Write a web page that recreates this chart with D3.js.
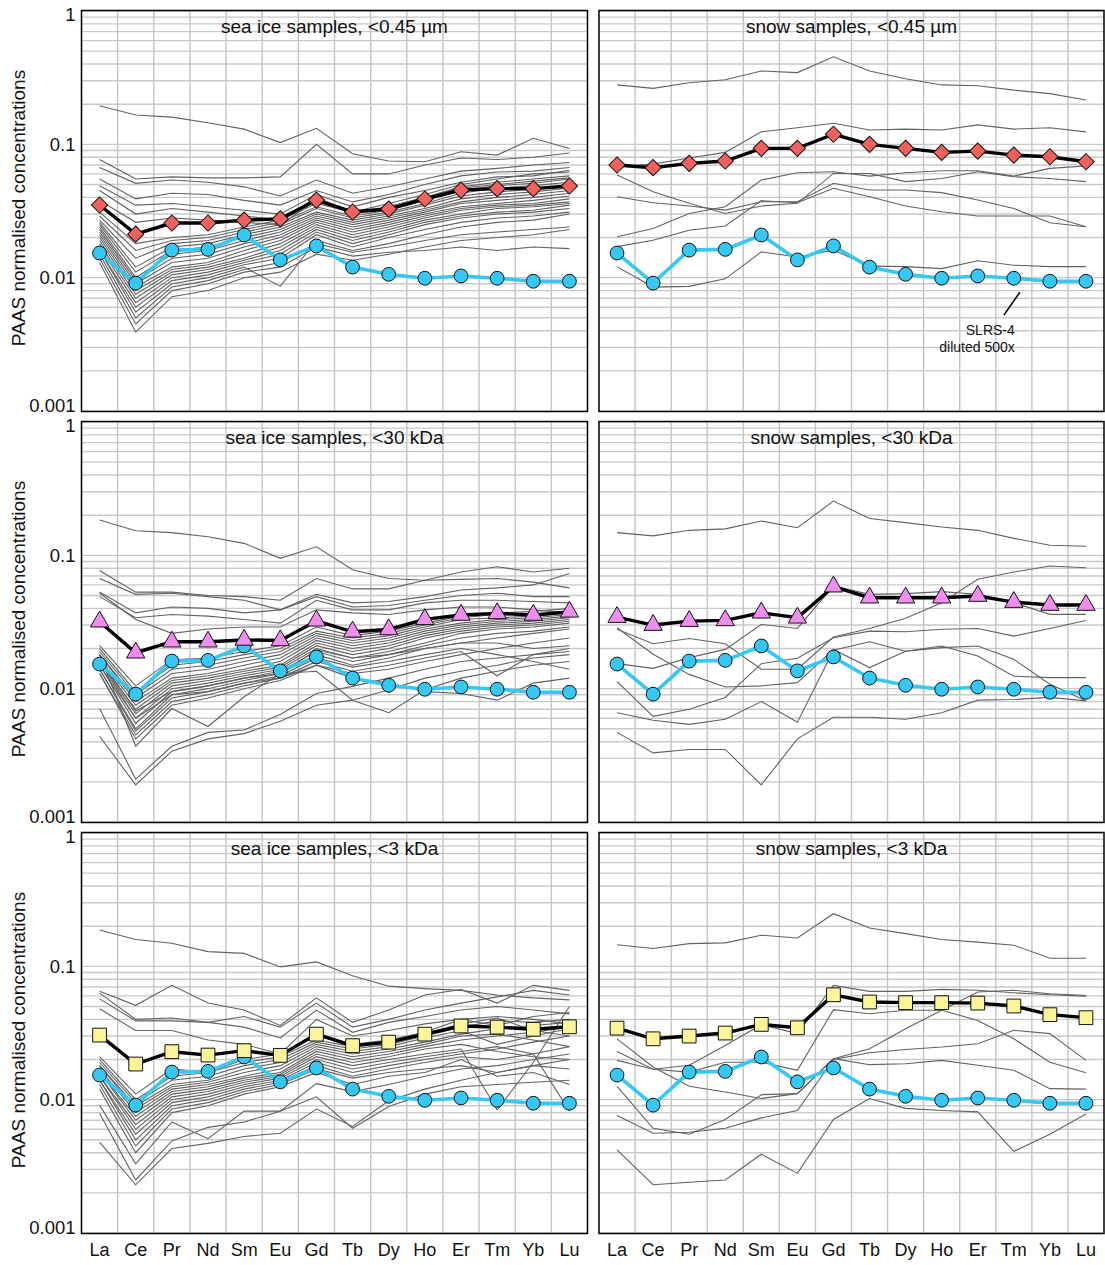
<!DOCTYPE html>
<html>
<head>
<meta charset="utf-8">
<script src="https://cdn.jsdelivr.net/npm/d3@7"></script>
<style>
body { margin: 0; background: #fff; }
text { font-family: "Liberation Sans", Arial, sans-serif; fill: #111; }
</style>
</head>
<body>
<div id="chart"></div>
<script>
var width = 1105;
var height = 1265;

var elements = ["La", "Ce", "Pr", "Nd", "Sm", "Eu", "Gd", "Tb", "Dy", "Ho", "Er", "Tm", "Yb", "Lu"];
var yTicks = [1, 0.1, 0.01, 0.001];

// SLRS-4 diluted 500x (same in every panel)
var slrs4 = [0.0153, 0.0091, 0.0161, 0.0163, 0.0209, 0.0136, 0.0173, 0.0120, 0.0106, 0.0099, 0.0103, 0.0099, 0.0094, 0.0094];

// mean profiles
var seaIce045Mean = [0.0351, 0.0212, 0.0257, 0.0257, 0.0270, 0.0276, 0.0382, 0.0311, 0.0327, 0.0389, 0.0454, 0.0465, 0.0465, 0.0487];
var snow045Mean = [0.070, 0.0668, 0.072, 0.075, 0.0933, 0.0933, 0.119, 0.100, 0.0933, 0.087, 0.089, 0.083, 0.0807, 0.074];
var seaIce30Mean = [0.0318, 0.0186, 0.0225, 0.0225, 0.0232, 0.0230, 0.0323, 0.0267, 0.0278, 0.0331, 0.0357, 0.0367, 0.0357, 0.0377];
var snow30Mean = [0.0344, 0.0300, 0.0321, 0.0325, 0.0371, 0.0340, 0.0582, 0.0481, 0.0481, 0.0481, 0.0495, 0.0446, 0.0424, 0.0424];
var seaIce3Mean = [0.0305, 0.0185, 0.0229, 0.0216, 0.0233, 0.0215, 0.0310, 0.0254, 0.0270, 0.0310, 0.0357, 0.0350, 0.0337, 0.0352];
var snow3Mean = [0.0344, 0.0286, 0.0300, 0.0316, 0.0367, 0.0346, 0.0612, 0.0540, 0.0534, 0.0534, 0.0530, 0.0504, 0.0434, 0.0412];

// individual samples
var seaIce045 = [
  [0.195, 0.166, 0.16, 0.145, 0.13, 0.103, 0.132, 0.085, 0.075, 0.074, 0.088, 0.083, 0.111, 0.093],
  [0.077, 0.055, 0.057, 0.056, 0.056, 0.057, 0.10, 0.06, 0.06, 0.07, 0.079, 0.077, 0.08, 0.086],
  [0.067, 0.051, 0.054, 0.052, 0.048, 0.041, 0.054, 0.043, 0.048, 0.055, 0.063, 0.066, 0.07, 0.073],
  [0.055, 0.039, 0.043, 0.042, 0.038, 0.035, 0.045, 0.037, 0.042, 0.05, 0.058, 0.062, 0.063, 0.067],
  [0.049, 0.035, 0.036, 0.034, 0.032, 0.03, 0.042, 0.034, 0.04, 0.045, 0.052, 0.057, 0.058, 0.064],
  [0.045, 0.03, 0.033, 0.031, 0.029, 0.027, 0.04, 0.031, 0.036, 0.042, 0.05, 0.055, 0.06, 0.062],
  [0.038, 0.026, 0.028, 0.027, 0.026, 0.025, 0.038, 0.03, 0.034, 0.04, 0.047, 0.05, 0.053, 0.056],
  [0.031, 0.018, 0.02, 0.021, 0.024, 0.027, 0.036, 0.031, 0.034, 0.040, 0.048, 0.052, 0.055, 0.058],
  [0.029, 0.016, 0.019, 0.02, 0.023, 0.026, 0.034, 0.029, 0.032, 0.038, 0.045, 0.049, 0.051, 0.055],
  [0.027, 0.014, 0.018, 0.019, 0.022, 0.025, 0.033, 0.028, 0.031, 0.036, 0.043, 0.047, 0.049, 0.052],
  [0.026, 0.012, 0.017, 0.018, 0.021, 0.024, 0.031, 0.027, 0.03, 0.035, 0.041, 0.044, 0.046, 0.05],
  [0.025, 0.011, 0.016, 0.017, 0.02, 0.023, 0.03, 0.026, 0.029, 0.033, 0.039, 0.042, 0.044, 0.047],
  [0.024, 0.01, 0.015, 0.016, 0.019, 0.022, 0.029, 0.025, 0.028, 0.032, 0.037, 0.04, 0.042, 0.045],
  [0.023, 0.0095, 0.014, 0.015, 0.018, 0.021, 0.028, 0.024, 0.027, 0.031, 0.036, 0.038, 0.04, 0.043],
  [0.022, 0.009, 0.013, 0.014, 0.017, 0.02, 0.027, 0.023, 0.026, 0.03, 0.034, 0.036, 0.038, 0.041],
  [0.021, 0.0085, 0.012, 0.013, 0.016, 0.019, 0.026, 0.022, 0.025, 0.029, 0.033, 0.035, 0.036, 0.039],
  [0.02, 0.008, 0.0115, 0.0125, 0.015, 0.018, 0.025, 0.021, 0.024, 0.028, 0.032, 0.034, 0.035, 0.037],
  [0.019, 0.0075, 0.011, 0.012, 0.014, 0.017, 0.024, 0.02, 0.023, 0.027, 0.03, 0.033, 0.034, 0.036],
  [0.018, 0.007, 0.0105, 0.0115, 0.0135, 0.016, 0.023, 0.019, 0.022, 0.026, 0.029, 0.031, 0.032, 0.035],
  [0.017, 0.0065, 0.01, 0.011, 0.013, 0.015, 0.022, 0.018, 0.021, 0.025, 0.028, 0.03, 0.031, 0.033],
  [0.016, 0.006, 0.0095, 0.0105, 0.0125, 0.014, 0.021, 0.017, 0.02, 0.023, 0.026, 0.028, 0.029, 0.031],
  [0.016, 0.0055, 0.009, 0.01, 0.012, 0.0086, 0.019, 0.016, 0.018, 0.021, 0.024, 0.026, 0.027, 0.03],
  [0.015, 0.005, 0.0085, 0.0095, 0.0115, 0.013, 0.018, 0.0155, 0.017, 0.019, 0.021, 0.022, 0.023, 0.024],
  [0.014, 0.0045, 0.008, 0.009, 0.011, 0.012, 0.017, 0.0145, 0.0155, 0.016, 0.017, 0.016, 0.017, 0.0165],
  [0.013, 0.0039, 0.0072, 0.008, 0.01, 0.011, 0.015, 0.0135, 0.015, 0.017, 0.019, 0.02, 0.021, 0.023]
];

var snow045 = [
  [0.279, 0.263, 0.29, 0.305, 0.355, 0.345, 0.454, 0.355, 0.31, 0.279, 0.275, 0.255, 0.24, 0.215],
  [0.068, 0.071, 0.079, 0.087, 0.124, 0.133, 0.144, 0.128, 0.13, 0.128, 0.14, 0.13, 0.133, 0.124],
  [0.0589, 0.0441, 0.0361, 0.0303, 0.0345, 0.0361, 0.0605, 0.0605, 0.0525, 0.0555, 0.0623, 0.0571, 0.0555, 0.0525],
  [0.0405, 0.0365, 0.0345, 0.0321, 0.0371, 0.0371, 0.051, 0.0454, 0.0454, 0.0434, 0.0382, 0.033, 0.0258, 0.0241],
  [0.0203, 0.0234, 0.0303, 0.034, 0.054, 0.0612, 0.0623, 0.0578, 0.0612, 0.0634, 0.0634, 0.0578, 0.066, 0.0687],
  [0.0171, 0.0191, 0.0227, 0.0244, 0.0378, 0.0365, 0.0468, 0.0405, 0.0345, 0.0312, 0.029, 0.029, 0.029, 0.0241],
  [0.0121, 0.0085, 0.0086, 0.0098, 0.0156, 0.0143, 0.0161, 0.0122, 0.0121, 0.0117, 0.0134, 0.0124, 0.0121, 0.0121]
];

var seaIce30 = [
  [0.184, 0.153, 0.148, 0.138, 0.123, 0.095, 0.116, 0.078, 0.067, 0.065, 0.075, 0.082, 0.075, 0.08],
  [0.077, 0.053, 0.053, 0.05, 0.049, 0.046, 0.067, 0.056, 0.056, 0.065, 0.066, 0.067, 0.063, 0.057],
  [0.067, 0.051, 0.052, 0.049, 0.046, 0.039, 0.051, 0.044, 0.045, 0.049, 0.055, 0.057, 0.06, 0.073],
  [0.053, 0.037, 0.041, 0.04, 0.037, 0.039, 0.049, 0.041, 0.042, 0.046, 0.05, 0.052, 0.049, 0.049],
  [0.049, 0.034, 0.036, 0.035, 0.033, 0.031, 0.046, 0.039, 0.039, 0.044, 0.046, 0.046, 0.045, 0.044],
  [0.052, 0.033, 0.026, 0.028, 0.029, 0.029, 0.039, 0.037, 0.036, 0.039, 0.041, 0.041, 0.039, 0.037],
  [0.021, 0.0105, 0.0165, 0.017, 0.019, 0.021, 0.029, 0.025, 0.027, 0.031, 0.035, 0.037, 0.038, 0.04],
  [0.02, 0.0095, 0.015, 0.016, 0.018, 0.02, 0.027, 0.024, 0.026, 0.03, 0.034, 0.036, 0.036, 0.038],
  [0.019, 0.009, 0.014, 0.015, 0.017, 0.019, 0.026, 0.023, 0.025, 0.029, 0.033, 0.034, 0.035, 0.037],
  [0.018, 0.0085, 0.013, 0.014, 0.016, 0.018, 0.025, 0.022, 0.024, 0.028, 0.031, 0.033, 0.034, 0.036],
  [0.018, 0.008, 0.012, 0.013, 0.015, 0.017, 0.024, 0.021, 0.023, 0.027, 0.03, 0.032, 0.033, 0.035],
  [0.017, 0.0075, 0.0115, 0.0125, 0.014, 0.016, 0.023, 0.02, 0.022, 0.026, 0.029, 0.031, 0.032, 0.034],
  [0.016, 0.007, 0.011, 0.012, 0.0135, 0.015, 0.022, 0.019, 0.021, 0.025, 0.028, 0.03, 0.031, 0.033],
  [0.016, 0.0065, 0.0105, 0.0115, 0.013, 0.0145, 0.021, 0.018, 0.02, 0.024, 0.027, 0.029, 0.03, 0.032],
  [0.015, 0.006, 0.01, 0.011, 0.0125, 0.014, 0.02, 0.017, 0.019, 0.022, 0.026, 0.028, 0.029, 0.031],
  [0.015, 0.0055, 0.0095, 0.0105, 0.012, 0.0135, 0.019, 0.016, 0.018, 0.021, 0.024, 0.026, 0.027, 0.029],
  [0.014, 0.005, 0.009, 0.01, 0.0115, 0.013, 0.018, 0.015, 0.017, 0.02, 0.022, 0.022, 0.02, 0.021],
  [0.014, 0.0048, 0.0085, 0.0095, 0.011, 0.0125, 0.017, 0.0145, 0.016, 0.018, 0.02, 0.018, 0.016, 0.014],
  [0.013, 0.0045, 0.008, 0.009, 0.0105, 0.012, 0.016, 0.0135, 0.015, 0.017, 0.019, 0.0125, 0.018, 0.02],
  [0.013, 0.0042, 0.0075, 0.0085, 0.01, 0.0115, 0.015, 0.013, 0.014, 0.016, 0.018, 0.02, 0.022, 0.024],
  [0.017, 0.0068, 0.0095, 0.0105, 0.012, 0.013, 0.0135, 0.0082, 0.0066, 0.0098, 0.012, 0.0135, 0.015, 0.016],
  [0.016, 0.006, 0.009, 0.0095, 0.011, 0.012, 0.015, 0.012, 0.011, 0.0095, 0.0092, 0.0082, 0.011, 0.012],
  [0.018, 0.0037, 0.0071, 0.0052, 0.0087, 0.013, 0.0195, 0.017, 0.018, 0.02, 0.022, 0.024, 0.026, 0.028],
  [0.0044, 0.0019, 0.0034, 0.0042, 0.0046, 0.0057, 0.0075, 0.0082, 0.0098, 0.012, 0.0135, 0.015, 0.017, 0.018],
  [0.0071, 0.0021, 0.0037, 0.0047, 0.0049, 0.0064, 0.0092, 0.0104, 0.012, 0.014, 0.016, 0.017, 0.018, 0.019]
];

var snow30 = [
  [0.148, 0.14, 0.154, 0.158, 0.181, 0.161, 0.255, 0.189, 0.176, 0.163, 0.154, 0.134, 0.119, 0.117],
  [0.0279, 0.0217, 0.0238, 0.0217, 0.014, 0.014, 0.0244, 0.0283, 0.0337, 0.0441, 0.0661, 0.0749, 0.0832, 0.0807],
  [0.0154, 0.0142, 0.0171, 0.0197, 0.0303, 0.0283, 0.0589, 0.051, 0.0516, 0.0534, 0.051, 0.0441, 0.0361, 0.0361],
  [0.0286, 0.0181, 0.0128, 0.0103, 0.0105, 0.0111, 0.0197, 0.0144, 0.0191, 0.0203, 0.0209, 0.0166, 0.0108, 0.0081],
  [0.0113, 0.0062, 0.007, 0.0086, 0.0154, 0.0169, 0.0241, 0.027, 0.0267, 0.0279, 0.0283, 0.0248, 0.0283, 0.0325],
  [0.0066, 0.0058, 0.0054, 0.0059, 0.008, 0.0056, 0.0194, 0.0225, 0.0191, 0.0209, 0.0176, 0.0124, 0.0121, 0.0121],
  [0.0047, 0.0033, 0.0035, 0.0035, 0.0019, 0.0042, 0.0061, 0.0061, 0.0059, 0.0066, 0.0082, 0.0083, 0.0086, 0.0081]
];

var seaIce3 = [
  [0.187, 0.159, 0.149, 0.129, 0.125, 0.099, 0.108, 0.085, 0.071, 0.068, 0.066, 0.061, 0.058, 0.056],
  [0.065, 0.051, 0.072, 0.053, 0.047, 0.036, 0.058, 0.038, 0.047, 0.061, 0.067, 0.053, 0.072, 0.066],
  [0.063, 0.04, 0.041, 0.038, 0.042, 0.035, 0.053, 0.035, 0.04, 0.047, 0.053, 0.059, 0.066, 0.061],
  [0.057, 0.039, 0.039, 0.038, 0.035, 0.029, 0.047, 0.032, 0.038, 0.042, 0.047, 0.05, 0.047, 0.044],
  [0.048, 0.033, 0.033, 0.028, 0.026, 0.022, 0.04, 0.03, 0.033, 0.037, 0.04, 0.042, 0.04, 0.037],
  [0.021, 0.011, 0.017, 0.016, 0.02, 0.022, 0.03, 0.026, 0.028, 0.032, 0.04, 0.036, 0.042, 0.045],
  [0.02, 0.01, 0.015, 0.016, 0.019, 0.021, 0.028, 0.025, 0.027, 0.031, 0.037, 0.041, 0.033, 0.03],
  [0.019, 0.0095, 0.014, 0.015, 0.018, 0.02, 0.027, 0.024, 0.026, 0.03, 0.035, 0.039, 0.038, 0.04],
  [0.018, 0.009, 0.013, 0.014, 0.017, 0.019, 0.026, 0.023, 0.025, 0.029, 0.033, 0.026, 0.03, 0.034],
  [0.018, 0.0085, 0.0125, 0.0135, 0.016, 0.018, 0.025, 0.022, 0.024, 0.027, 0.031, 0.034, 0.036, 0.038],
  [0.017, 0.008, 0.012, 0.013, 0.015, 0.017, 0.024, 0.021, 0.023, 0.026, 0.03, 0.031, 0.028, 0.025],
  [0.016, 0.0075, 0.0115, 0.0125, 0.0145, 0.016, 0.023, 0.02, 0.022, 0.025, 0.028, 0.03, 0.032, 0.035],
  [0.016, 0.007, 0.011, 0.012, 0.014, 0.0155, 0.022, 0.019, 0.021, 0.024, 0.026, 0.023, 0.021, 0.02],
  [0.015, 0.0065, 0.0105, 0.0115, 0.0135, 0.015, 0.021, 0.018, 0.02, 0.022, 0.024, 0.0084, 0.019, 0.05],
  [0.015, 0.006, 0.01, 0.011, 0.013, 0.0145, 0.02, 0.017, 0.019, 0.021, 0.023, 0.025, 0.022, 0.0082],
  [0.014, 0.0055, 0.0095, 0.0105, 0.0125, 0.014, 0.019, 0.016, 0.018, 0.02, 0.022, 0.024, 0.027, 0.03],
  [0.014, 0.005, 0.009, 0.01, 0.012, 0.0135, 0.018, 0.015, 0.017, 0.019, 0.021, 0.02, 0.022, 0.025],
  [0.013, 0.0045, 0.0085, 0.0095, 0.0115, 0.013, 0.017, 0.0145, 0.016, 0.017, 0.018, 0.016, 0.018, 0.017],
  [0.012, 0.004, 0.008, 0.009, 0.011, 0.0125, 0.016, 0.013, 0.015, 0.016, 0.02, 0.015, 0.016, 0.013],
  [0.0048, 0.0023, 0.0043, 0.0047, 0.0053, 0.0056, 0.0085, 0.0063, 0.0098, 0.012, 0.014, 0.016, 0.018, 0.02],
  [0.0079, 0.0025, 0.0049, 0.0062, 0.0068, 0.0082, 0.0132, 0.0115, 0.013, 0.015, 0.017, 0.018, 0.02, 0.022],
  [0.0091, 0.0033, 0.0068, 0.0051, 0.0082, 0.0082, 0.0105, 0.0061, 0.0089, 0.011, 0.0125, 0.013, 0.0135, 0.014]
];

var snow3 = [
  [0.145, 0.136, 0.148, 0.150, 0.171, 0.163, 0.248, 0.194, 0.176, 0.159, 0.152, 0.144, 0.115, 0.115],
  [0.0197, 0.0169, 0.0181, 0.0255, 0.0365, 0.0313, 0.072, 0.0649, 0.0649, 0.0672, 0.0661, 0.0634, 0.0612, 0.0598],
  [0.023, 0.0169, 0.0161, 0.0191, 0.0191, 0.0166, 0.0473, 0.0441, 0.0468, 0.0468, 0.0393, 0.0286, 0.0191, 0.0159],
  [0.0286, 0.0176, 0.0126, 0.0114, 0.0102, 0.0111, 0.0203, 0.0183, 0.0186, 0.0197, 0.0181, 0.0166, 0.0121, 0.012],
  [0.0126, 0.0061, 0.0055, 0.0071, 0.0109, 0.0111, 0.0203, 0.0241, 0.034, 0.0468, 0.0642, 0.0661, 0.0623, 0.0605],
  [0.0076, 0.0056, 0.0057, 0.0061, 0.0073, 0.0083, 0.02, 0.0225, 0.0238, 0.0248, 0.0263, 0.0331, 0.0313, 0.0197],
  [0.0042, 0.0023, 0.0024, 0.0025, 0.0039, 0.0028, 0.0071, 0.0102, 0.0086, 0.0083, 0.0081, 0.0041, 0.0055, 0.0078]
];

var panels = [
  {title: "sea ice samples, <0.45 µm", col: 0, row: 0, samples: seaIce045, mean: seaIce045Mean, marker: "diamond", fill: "#f2615c"},
  {title: "snow samples, <0.45 µm", col: 1, row: 0, samples: snow045, mean: snow045Mean, marker: "diamond", fill: "#f2615c", note: true},
  {title: "sea ice samples, <30 kDa", col: 0, row: 1, samples: seaIce30, mean: seaIce30Mean, marker: "triangle", fill: "#f08ef0"},
  {title: "snow samples, <30 kDa", col: 1, row: 1, samples: snow30, mean: snow30Mean, marker: "triangle", fill: "#f08ef0"},
  {title: "sea ice samples, <3 kDa", col: 0, row: 2, samples: seaIce3, mean: seaIce3Mean, marker: "square", fill: "#fbf59a"},
  {title: "snow samples, <3 kDa", col: 1, row: 2, samples: snow3, mean: snow3Mean, marker: "square", fill: "#fbf59a"}
];

var colX = [81.5, 599];
var colW = [506, 505];
var rowY = [10.5, 421.5, 832.5];
var panelH = 401;

var blue = "#35c8f4";

var svg = d3.select("#chart")
  .append("svg")
    .attr("width", width)
    .attr("height", height)
    .style("background-color", "#fff");

function markerPath(type) {
  if (type == "triangle") return d3.symbol().type(d3.symbolTriangle).size(145)();
  if (type == "square") return d3.symbol().type(d3.symbolSquare).size(190)();
  return d3.symbol().type(d3.symbolSquare).size(132)();
}

panels.forEach(function(p) {
  var x0 = colX[p.col], w = colW[p.col], y0 = rowY[p.row];
  var x = d3.scaleBand().domain(elements).range([x0, x0 + w]);
  var y = d3.scaleLog().domain([0.001, 1]).range([y0 + panelH - 0.5, y0 + 0.5]);
  var cx = function(i) { return x(elements[i]) + x.bandwidth() / 2; };
  var line = d3.line().x(function(d, i) { return cx(i); }).y(function(d) { return y(d); });

  var g = svg.append("g");

  // grid
  g.selectAll(".hgrid")
    .data(y.ticks())
    .join("line")
      .attr("x1", x0).attr("x2", x0 + w)
      .attr("y1", function(d) { return y(d); })
      .attr("y2", function(d) { return y(d); })
      .attr("stroke", "#c9c9c9")
      .attr("stroke-width", 1.4);

  g.selectAll(".vgrid")
    .data(elements.slice(1))
    .join("line")
      .attr("x1", function(d) { return x(d); })
      .attr("x2", function(d) { return x(d); })
      .attr("y1", y0).attr("y2", y0 + panelH)
      .attr("stroke", "#c4c4c4")
      .attr("stroke-width", 1.4);

  // samples
  g.selectAll(".sample")
    .data(p.samples)
    .join("path")
      .attr("d", line)
      .attr("fill", "none")
      .attr("stroke", "#626262")
      .attr("stroke-width", 1.1);

  // SLRS-4
  g.append("path")
    .attr("d", line(slrs4))
    .attr("fill", "none")
    .attr("stroke", blue)
    .attr("stroke-width", 3.6);

  g.selectAll(".slrs")
    .data(slrs4)
    .join("circle")
      .attr("cx", function(d, i) { return cx(i); })
      .attr("cy", function(d) { return y(d); })
      .attr("r", 6.9)
      .attr("fill", blue)
      .attr("stroke", "#111")
      .attr("stroke-width", 1);

  // mean
  g.append("path")
    .attr("d", line(p.mean))
    .attr("fill", "none")
    .attr("stroke", "#000")
    .attr("stroke-width", 3.4);

  g.selectAll(".mean")
    .data(p.mean)
    .join("path")
      .attr("d", markerPath(p.marker))
      .attr("transform", function(d, i) {
        return "translate(" + cx(i) + "," + y(d) + ")" + (p.marker == "diamond" ? " rotate(45)" : "");
      })
      .attr("fill", p.fill)
      .attr("stroke", "#111")
      .attr("stroke-width", 1);

  // frame
  g.append("rect")
    .attr("x", x0).attr("y", y0)
    .attr("width", w).attr("height", panelH)
    .attr("fill", "none")
    .attr("stroke", "#000")
    .attr("stroke-width", 1.5);

  g.append("text")
    .attr("x", x0 + w / 2)
    .attr("y", y0 + 22)
    .attr("text-anchor", "middle")
    .style("font-size", "19px")
    .text(p.title);

  if (p.col == 0) {
    var ax = g.append("g")
      .attr("transform", "translate(" + x0 + ",0)")
      .call(d3.axisLeft(y).tickValues(yTicks).tickSize(0).tickPadding(6).tickFormat(d3.format("~g")));
    ax.select(".domain").remove();
    ax.selectAll("text")
      .style("font-size", "18.5px")
      .style("font-family", "Liberation Sans, Arial, sans-serif")
      .attr("fill", "#111")
      .attr("y", function(d) { return d == 1 ? 4 : (d == 0.001 ? -5 : 0); });

    g.append("text")
      .attr("transform", "translate(25," + (y0 + panelH / 2 - 3) + ") rotate(-90)")
      .attr("text-anchor", "middle")
      .style("font-size", "19px")
      .text("PAAS normalised concentrations");
  }

  if (p.row == 2) {
    var bx = g.append("g")
      .attr("transform", "translate(0," + (y0 + panelH) + ")")
      .call(d3.axisBottom(x).tickSize(0).tickPadding(10));
    bx.select(".domain").remove();
    bx.selectAll("text")
      .style("font-size", "18px")
      .style("font-family", "Liberation Sans, Arial, sans-serif")
      .attr("fill", "#111");
  }

  if (p.note) {
    var tx = cx(11), ty = y(slrs4[11]);
    g.append("line")
      .attr("x1", tx + 6).attr("y1", ty + 14)
      .attr("x2", tx - 10).attr("y2", ty + 37)
      .attr("stroke", "#000")
      .attr("stroke-width", 1.5);
    g.append("text")
      .attr("x", tx + 1).attr("y", ty + 57)
      .attr("text-anchor", "end")
      .style("font-size", "14px")
      .text("SLRS-4");
    g.append("text")
      .attr("x", tx + 1).attr("y", ty + 74)
      .attr("text-anchor", "end")
      .style("font-size", "14px")
      .text("diluted 500x");
  }
});
</script>
</body>
</html>
